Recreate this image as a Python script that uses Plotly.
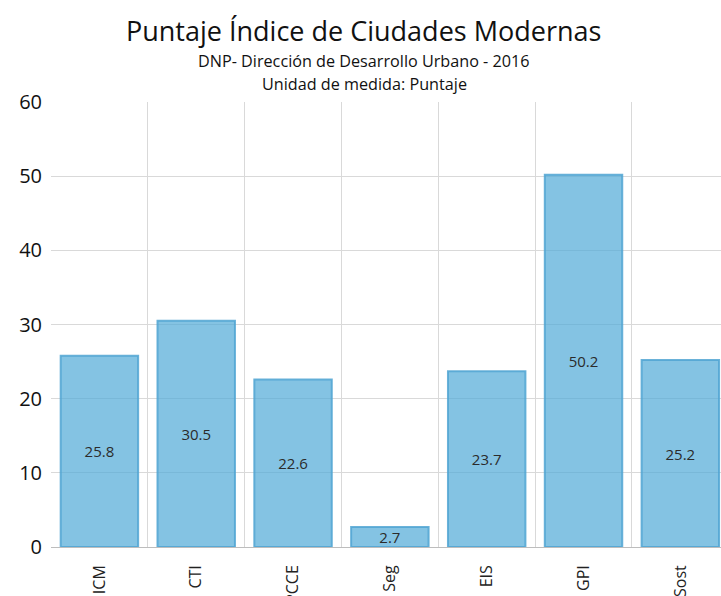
import plotly.graph_objects as go

categories = ["ICM", "CTI", "PCCE", "Seg", "EIS", "GPI", "Sost"]
values = [25.8, 30.5, 22.6, 2.7, 23.7, 50.2, 25.2]
value_labels = ["25.8", "30.5", "22.6", "2.7", "23.7", "50.2", "25.2"]
title_text = "Puntaje Índice de Ciudades Modernas"
subtitle_1 = "DNP- Dirección de Desarrollo Urbano - 2016"
subtitle_2 = "Unidad de medida: Puntaje"

W, H = 721, 596
ML, MR, MT, MB = 51, 0, 102, 49
FONT = "Open Sans"

def py(pix):
    # convert pixel y (from top) to paper coords
    return 1 + (MT - pix) / (H - MT - MB)

def px(pix):
    return (pix - ML) / (W - ML - MR)

fig = go.Figure(go.Bar(
    x=categories, y=values, text=value_labels,
    textposition="inside", insidetextanchor="middle", constraintext="none",
    textfont=dict(family=FONT, size=15, color="#2b2b2b"),
    marker=dict(color="rgba(80,170,215,0.7)",
                line=dict(color="rgba(80,165,210,0.85)", width=2)),
    width=0.8, cliponaxis=False,
))

fig.add_annotation(text=title_text, x=px(363), y=py(30), xref="paper", yref="paper",
                   showarrow=False, yanchor="middle", xanchor="center",
                   font=dict(family=FONT, size=27, color="#111"))
fig.add_annotation(text=subtitle_1, x=px(364), y=py(61), xref="paper", yref="paper",
                   showarrow=False, yanchor="middle", xanchor="center",
                   font=dict(family=FONT, size=16.2, color="#111"))
fig.add_annotation(text=subtitle_2, x=px(364), y=py(84), xref="paper", yref="paper",
                   showarrow=False, yanchor="middle", xanchor="center",
                   font=dict(family=FONT, size=16.2, color="#111"))

fig.update_layout(
    width=W, height=H,
    margin=dict(l=ML, r=MR, t=MT, b=MB, pad=0),
    paper_bgcolor="white", plot_bgcolor="white",
    showlegend=False,
    xaxis=dict(type="category", range=[-0.5, 6.42], tickson="boundaries",
               showgrid=True, gridcolor="#d9d9d9", gridwidth=1,
               tickangle=-90, ticks="", automargin=False, ticklabelstandoff=14,
               tickfont=dict(family=FONT, size=16, color="#222"),
               showline=False, zeroline=False, fixedrange=True),
    yaxis=dict(range=[0, 60], dtick=10, showgrid=True, gridcolor="#d9d9d9",
               gridwidth=1, zeroline=True, zerolinecolor="#bdbdbd", zerolinewidth=1,
               tickfont=dict(family=FONT, size=20, color="#111"),
               ticks="", ticklabelstandoff=8, automargin=False, showline=False),
)

fig.write_html("out.html", config={"displayModeBar": False},
               post_script="document.body.style.margin='0';document.body.style.overflow='hidden';")
